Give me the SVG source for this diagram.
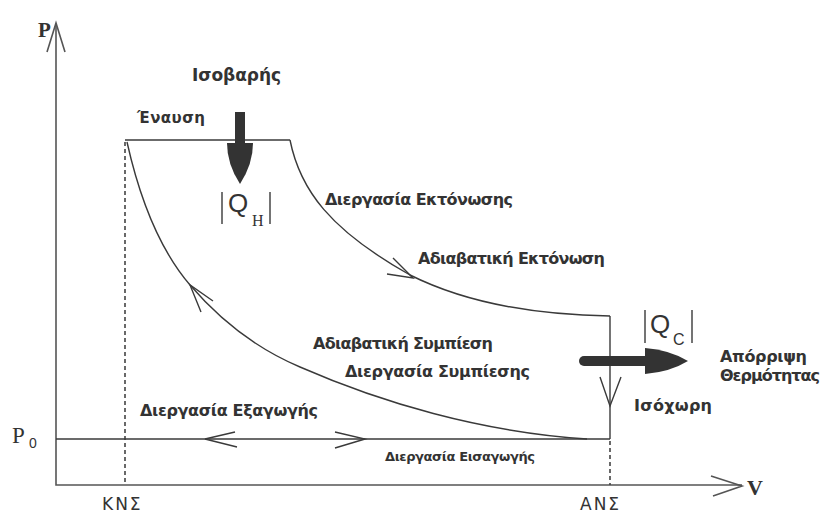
<svg xmlns="http://www.w3.org/2000/svg" width="822" height="515" viewBox="0 0 822 515">
<style>
.ln{fill:none;stroke:#3a3a3a;stroke-width:1.4}
.ax{fill:none;stroke:#555;stroke-width:1.6}
.dash{fill:none;stroke:#444;stroke-width:1.6;stroke-dasharray:4 3}
.lbl{font-family:"DejaVu Sans","Noto Sans",sans-serif;font-weight:bold;fill:#333}
.tick{font-family:"DejaVu Sans","Noto Sans",sans-serif;fill:#333;font-size:17px;letter-spacing:2px}
.thick{fill:#333;stroke:none}
.serif{font-family:"Liberation Serif",serif;fill:#333}
.sans{font-family:"Liberation Sans",sans-serif;fill:#333}
</style>
<rect width="822" height="515" fill="#fff"/>
<g id="axes">
<path class="ax" d="M56,24 V485 H742"/>
<path class="ax" d="M47,52 L56,23 L65,52"/>
<path class="ax" d="M711,476 L742,486 L713,496"/>
<text class="serif" x="38" y="37" font-size="21" font-weight="bold">P</text>
<text class="serif" x="747" y="495" font-size="22" font-weight="bold">V</text>
<text class="serif" x="12" y="443" font-size="23">P</text>
<text class="sans" x="29" y="448" font-size="14">0</text>
<path class="dash" d="M125,142 V485"/>
<path class="dash" d="M610,441 V485"/>
<text class="tick" x="102" y="510">ΚΝΣ</text>
<text class="tick" x="580" y="510">ΑΝΣ</text>
</g>
<g id="connectors">
<path class="ln" d="M125,140 H290"/>
<path class="ln" d="M290,140 C300,190 330,230 410,275 C470,305 540,315 610,316"/>
<path class="ln" d="M610,316 V439"/>
<path class="ln" d="M56,439 H610"/>
<path class="ln" d="M127,142 C140,200 160,250 190,285 C220,320 255,348 300,367 C380,402 480,432 587,439"/>
<path class="ln" d="M393,258 L413,278 L387,274"/>
<path class="ln" d="M213,301 L190,285 L201,312"/>
<path class="ln" d="M235,432 L205,439 L237,447"/>
<path class="ln" d="M335,432 L365,439 L335,448"/>
<path class="ln" d="M600,377 L610,406 L621,377"/>
</g>
<g id="heat-in">
<rect class="thick" x="235" y="112" width="10" height="34"/>
<path class="thick" d="M227,143 L253,143 Q253,164 240,184 Q227,164 227,143 Z"/>
<path class="ln" d="M222,192 V224 M270,192 V224"/>
<text class="sans" x="228" y="212" font-size="26">Q</text>
<text class="serif" x="252" y="226" font-size="16">H</text>
</g>
<g id="heat-out">
<path d="M584,361 H650" stroke="#333" stroke-width="10" stroke-linecap="round" fill="none"/>
<path class="thick" d="M645,348 Q670,350 688,361 Q670,372 645,374 Z"/>
<path class="ln" d="M645,310 V343 M692,310 V343"/>
<text class="sans" x="650" y="333" font-size="26">Q</text>
<text class="sans" x="673" y="345" font-size="16">C</text>
</g>
<g id="labels">
<text class="lbl" x="192" y="81" font-size="17" textLength="89">Ισοβαρής</text>
<text class="lbl" x="137" y="123" font-size="15" textLength="68">Έναυση</text>
<text class="lbl" x="325" y="205" font-size="16" textLength="188">Διεργασία Εκτόνωσης</text>
<text class="lbl" x="418" y="264" font-size="16" textLength="187">Αδιαβατική Εκτόνωση</text>
<text class="lbl" x="313" y="349" font-size="16" textLength="180">Αδιαβατική Συμπίεση</text>
<text class="lbl" x="345" y="377" font-size="16" textLength="185">Διεργασία Συμπίεσης</text>
<text class="lbl" x="720" y="362" font-size="16" textLength="87">Απόρριψη</text>
<text class="lbl" x="720" y="381" font-size="16" textLength="100">Θερμότητας</text>
<text class="lbl" x="634" y="411" font-size="16" textLength="78">Ισόχωρη</text>
<text class="lbl" x="140" y="416" font-size="16" textLength="178">Διεργασία Εξαγωγής</text>
<text class="lbl" x="385" y="461" font-size="13" textLength="150">Διεργασία Εισαγωγής</text>
</g>
</svg>
